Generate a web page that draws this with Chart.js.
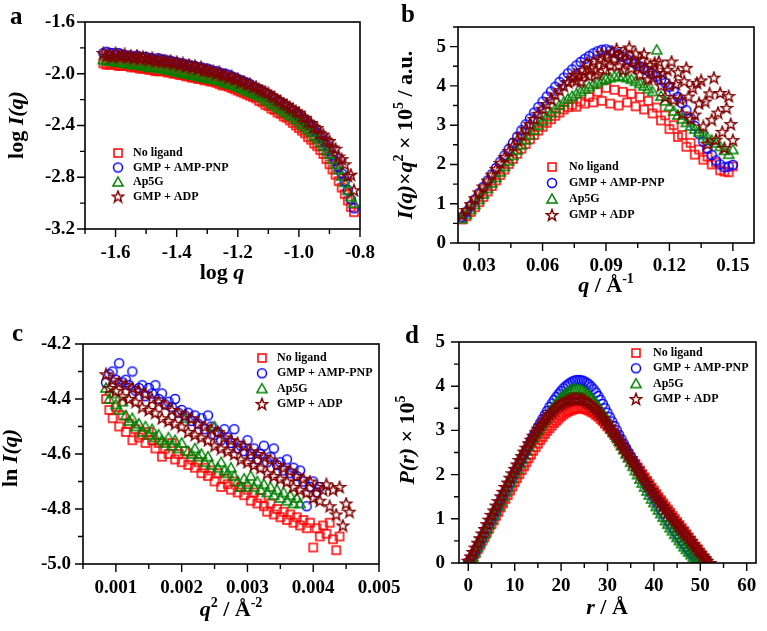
<!DOCTYPE html>
<html>
<head>
<meta charset="utf-8">
<script src="https://cdn.jsdelivr.net/npm/chart.js@4.4.1/dist/chart.umd.min.js"></script>
<style>
  body { margin: 0; background: #fff; width: 767px; height: 631px; position: relative; overflow: hidden; }
  canvas { position: absolute; }
</style>
</head>
<body>
<canvas id="chartA" width="384" height="316" style="left:0;top:0"></canvas>
<canvas id="chartB" width="384" height="316" style="left:383px;top:0"></canvas>
<canvas id="chartC" width="420" height="315" style="left:0;top:316px"></canvas>
<canvas id="chartD" width="384" height="315" style="left:383px;top:316px"></canvas>
<script>
'use strict';

const seriesNames = ['No ligand', 'GMP + AMP-PNP', 'Ap5G', 'GMP + ADP'];

// panel a: log I(q) vs log q
const logQ = [-1.64, -1.63, -1.62, -1.61, -1.60, -1.59, -1.58, -1.57, -1.56, -1.55, -1.54, -1.53, -1.52, -1.51, -1.50, -1.49, -1.48, -1.47, -1.46, -1.45, -1.44, -1.43, -1.42, -1.41, -1.40, -1.39, -1.38, -1.37, -1.36, -1.35, -1.34, -1.33, -1.32, -1.31, -1.30, -1.29, -1.28, -1.27, -1.26, -1.25, -1.24, -1.23, -1.22, -1.21, -1.20, -1.19, -1.18, -1.17, -1.16, -1.15, -1.14, -1.13, -1.12, -1.11, -1.10, -1.09, -1.08, -1.07, -1.06, -1.05, -1.04, -1.03, -1.02, -1.01, -1.00, -0.99, -0.98, -0.97, -0.96, -0.95, -0.94, -0.93, -0.92, -0.91, -0.90, -0.89, -0.88, -0.87, -0.86, -0.85, -0.84, -0.83, -0.82];
const aNoLigand = [-1.92, -1.93, -1.93, -1.92, -1.93, -1.94, -1.94, -1.93, -1.94, -1.95, -1.95, -1.95, -1.96, -1.96, -1.96, -1.97, -1.97, -1.98, -1.98, -1.98, -1.98, -1.99, -1.99, -2.00, -2.00, -2.01, -2.01, -2.02, -2.02, -2.03, -2.03, -2.04, -2.04, -2.05, -2.05, -2.06, -2.06, -2.07, -2.08, -2.09, -2.09, -2.10, -2.11, -2.12, -2.13, -2.14, -2.15, -2.16, -2.17, -2.18, -2.19, -2.21, -2.22, -2.24, -2.25, -2.27, -2.28, -2.30, -2.31, -2.33, -2.34, -2.36, -2.38, -2.40, -2.42, -2.44, -2.46, -2.49, -2.51, -2.54, -2.56, -2.59, -2.62, -2.66, -2.70, -2.74, -2.78, -2.83, -2.88, -2.93, -2.98, -3.03, -3.07];
const aAmpPnp = [-1.84, -1.83, -1.84, -1.84, -1.85, -1.84, -1.85, -1.86, -1.86, -1.86, -1.87, -1.86, -1.87, -1.88, -1.87, -1.88, -1.88, -1.89, -1.88, -1.89, -1.89, -1.90, -1.90, -1.91, -1.91, -1.92, -1.92, -1.93, -1.93, -1.94, -1.94, -1.95, -1.95, -1.96, -1.96, -1.97, -1.98, -1.98, -1.99, -2.00, -2.00, -2.01, -2.02, -2.03, -2.04, -2.05, -2.06, -2.07, -2.08, -2.10, -2.11, -2.12, -2.13, -2.15, -2.16, -2.18, -2.19, -2.21, -2.22, -2.24, -2.25, -2.27, -2.29, -2.31, -2.33, -2.35, -2.37, -2.39, -2.41, -2.44, -2.46, -2.49, -2.52, -2.55, -2.59, -2.63, -2.67, -2.72, -2.77, -2.83, -2.90, -2.97, -3.04];
const aAp5g = [-1.89, -1.90, -1.90, -1.90, -1.91, -1.91, -1.91, -1.92, -1.92, -1.92, -1.93, -1.93, -1.93, -1.94, -1.94, -1.95, -1.95, -1.95, -1.95, -1.96, -1.96, -1.97, -1.97, -1.98, -1.98, -1.99, -1.99, -2.00, -2.00, -2.01, -2.01, -2.02, -2.02, -2.03, -2.03, -2.04, -2.04, -2.05, -2.05, -2.06, -2.07, -2.08, -2.08, -2.09, -2.10, -2.11, -2.12, -2.13, -2.14, -2.15, -2.16, -2.17, -2.18, -2.20, -2.21, -2.23, -2.24, -2.26, -2.27, -2.29, -2.30, -2.32, -2.33, -2.35, -2.37, -2.39, -2.41, -2.43, -2.45, -2.48, -2.50, -2.53, -2.56, -2.59, -2.62, -2.66, -2.70, -2.74, -2.79, -2.84, -2.90, -2.95, -3.00];
const aGmpAdp = [-1.84, -1.86, -1.85, -1.87, -1.84, -1.86, -1.86, -1.85, -1.87, -1.86, -1.88, -1.86, -1.88, -1.87, -1.88, -1.89, -1.88, -1.90, -1.89, -1.90, -1.90, -1.91, -1.90, -1.92, -1.91, -1.93, -1.92, -1.94, -1.93, -1.95, -1.94, -1.96, -1.95, -1.97, -1.97, -1.98, -1.98, -2.00, -1.99, -2.01, -2.01, -2.03, -2.02, -2.04, -2.04, -2.06, -2.06, -2.08, -2.08, -2.10, -2.10, -2.12, -2.13, -2.14, -2.15, -2.17, -2.18, -2.20, -2.21, -2.23, -2.24, -2.26, -2.27, -2.29, -2.30, -2.33, -2.34, -2.37, -2.38, -2.41, -2.42, -2.46, -2.47, -2.51, -2.52, -2.57, -2.58, -2.64, -2.66, -2.70, -2.79, -2.78, -2.90];
const aXTicks = [-1.6, -1.4, -1.2, -1.0, -0.8];
const aXMinor = [-1.7, -1.5, -1.3, -1.1, -0.9];
const aYTicks = [-1.6, -2.0, -2.4, -2.8, -3.2];
const aYMinor = [-1.8, -2.2, -2.6, -3.0];

// panel b: Kratky plot
const qB = [0.022, 0.024, 0.026, 0.028, 0.030, 0.032, 0.034, 0.036, 0.038, 0.040, 0.042, 0.044, 0.046, 0.048, 0.050, 0.052, 0.054, 0.056, 0.058, 0.060, 0.062, 0.064, 0.066, 0.068, 0.070, 0.072, 0.074, 0.076, 0.078, 0.080, 0.082, 0.084, 0.086, 0.088, 0.090, 0.092, 0.094, 0.096, 0.098, 0.100, 0.102, 0.104, 0.106, 0.108, 0.110, 0.112, 0.114, 0.116, 0.118, 0.120, 0.122, 0.124, 0.126, 0.128, 0.130, 0.132, 0.134, 0.136, 0.138, 0.140, 0.142, 0.144, 0.146, 0.148, 0.150];
const bNoLigand = [0.60, 0.68, 0.79, 0.91, 1.04, 1.17, 1.31, 1.45, 1.59, 1.73, 1.87, 2.01, 2.14, 2.27, 2.40, 2.52, 2.64, 2.75, 2.86, 2.96, 3.06, 3.15, 3.24, 3.32, 3.40, 3.46, 3.52, 3.47, 3.60, 3.55, 3.72, 3.58, 3.85, 3.62, 3.95, 3.55, 3.90, 3.50, 3.85, 3.58, 3.80, 3.48, 3.72, 3.40, 3.62, 3.30, 3.45, 3.12, 3.25, 2.90, 3.00, 2.70, 2.75, 2.45, 2.55, 2.25, 2.38, 2.12, 2.20, 2.00, 2.05, 1.85, 1.82, 1.80, 1.95];
const bAmpPnp = [0.66, 0.80, 0.95, 1.11, 1.27, 1.43, 1.59, 1.75, 1.91, 2.07, 2.23, 2.39, 2.55, 2.71, 2.87, 3.02, 3.17, 3.32, 3.46, 3.60, 3.73, 3.86, 3.98, 4.10, 4.21, 4.32, 4.42, 4.52, 4.61, 4.69, 4.76, 4.83, 4.88, 4.92, 4.93, 4.90, 4.85, 4.80, 4.74, 4.68, 4.62, 4.56, 4.50, 4.44, 4.38, 4.31, 4.24, 4.16, 4.08, 3.98, 3.86, 3.72, 3.56, 3.38, 3.18, 2.98, 2.78, 2.58, 2.40, 2.24, 2.10, 2.00, 1.93, 1.95, 1.99];
const bAp5g = [0.62, 0.73, 0.85, 0.98, 1.11, 1.25, 1.39, 1.53, 1.67, 1.81, 1.95, 2.09, 2.23, 2.37, 2.50, 2.63, 2.76, 2.88, 3.00, 3.11, 3.22, 3.32, 3.42, 3.51, 3.59, 3.67, 3.74, 3.80, 3.86, 3.92, 3.98, 4.04, 4.09, 4.14, 4.18, 4.21, 4.24, 4.25, 4.24, 4.21, 4.17, 4.12, 4.06, 4.00, 3.93, 3.86, 4.92, 3.74, 3.62, 3.48, 3.36, 3.26, 3.16, 3.07, 2.98, 2.90, 2.83, 2.76, 2.69, 2.62, 2.55, 2.46, 2.36, 2.26, 2.38];
// GMP + ADP is sampled more finely past the peak, where it is noisy
const qBAdp = [0.022, 0.024, 0.026, 0.028, 0.030, 0.032, 0.034, 0.036, 0.038, 0.040, 0.042, 0.044, 0.046, 0.048, 0.050, 0.052, 0.054, 0.056, 0.058, 0.060, 0.062, 0.064, 0.066, 0.068, 0.070, 0.072, 0.074, 0.075, 0.076, 0.077, 0.078, 0.079, 0.080, 0.081, 0.082, 0.083, 0.084, 0.085, 0.086, 0.087, 0.088, 0.089, 0.090, 0.091, 0.092, 0.093, 0.094, 0.095, 0.096, 0.097, 0.098, 0.099, 0.100, 0.101, 0.102, 0.103, 0.104, 0.105, 0.106, 0.107, 0.108, 0.109, 0.110, 0.111, 0.112, 0.113, 0.114, 0.115, 0.116, 0.117, 0.118, 0.119, 0.120, 0.121, 0.122, 0.123, 0.124, 0.125, 0.126, 0.127, 0.128, 0.129, 0.130, 0.131, 0.132, 0.133, 0.134, 0.135, 0.136, 0.137, 0.138, 0.139, 0.140, 0.141, 0.142, 0.143, 0.144, 0.145, 0.146, 0.147, 0.148, 0.149, 0.150];
const bGmpAdp = [0.72, 0.84, 0.99, 1.14, 1.29, 1.44, 1.59, 1.74, 1.89, 2.04, 2.19, 2.34, 2.48, 2.62, 2.76, 2.90, 3.03, 3.16, 3.29, 3.42, 3.54, 3.66, 3.78, 3.89, 4.00, 4.10, 4.20, 4.28, 4.13, 4.28, 4.11, 4.41, 4.31, 4.59, 4.26, 4.46, 4.64, 4.40, 4.30, 4.67, 4.84, 4.59, 4.41, 4.75, 4.52, 4.86, 4.69, 4.94, 4.52, 4.76, 4.40, 4.85, 4.64, 4.98, 4.45, 4.67, 4.83, 4.48, 4.29, 4.67, 4.81, 4.45, 4.17, 4.53, 4.21, 4.59, 4.33, 4.62, 4.01, 4.32, 3.72, 4.41, 4.02, 4.62, 3.65, 4.05, 4.35, 3.66, 3.30, 4.12, 4.46, 3.73, 3.16, 3.95, 3.27, 4.08, 3.56, 4.14, 2.97, 3.60, 2.52, 3.81, 3.14, 4.21, 2.63, 3.32, 3.82, 2.83, 2.42, 3.44, 3.74, 3.03, 2.62];
const bXTicks = [0.03, 0.06, 0.09, 0.12, 0.15];
const bXMinor = [0.045, 0.075, 0.105, 0.135];
const bYTicks = [0, 1, 2, 3, 4, 5];
const bYMinor = [0.5, 1.5, 2.5, 3.5, 4.5, 5.5];

// panel c: Guinier plot
const q2C = [0.00085, 0.0009, 0.00095, 0.001, 0.00105, 0.0011, 0.00115, 0.0012, 0.00125, 0.0013, 0.00135, 0.0014, 0.00145, 0.0015, 0.00155, 0.0016, 0.00165, 0.0017, 0.00175, 0.0018, 0.00185, 0.0019, 0.00195, 0.002, 0.00205, 0.0021, 0.00215, 0.0022, 0.00225, 0.0023, 0.00235, 0.0024, 0.00245, 0.0025, 0.00255, 0.0026, 0.00265, 0.0027, 0.00275, 0.0028, 0.00285, 0.0029, 0.00295, 0.003, 0.00305, 0.0031, 0.00315, 0.0032, 0.00325, 0.0033, 0.00335, 0.0034, 0.00345, 0.0035, 0.00355, 0.0036, 0.00365, 0.0037, 0.00375, 0.0038, 0.00385, 0.0039, 0.00395, 0.004, 0.00405, 0.0041, 0.00415, 0.0042, 0.00425, 0.0043, 0.00435, 0.0044, 0.00445, 0.0045, 0.00455];
const cNoLigand = [-4.40, -4.44, -4.47, -4.43, -4.50, -4.46, -4.52, -4.49, -4.55, -4.51, -4.54, -4.53, -4.56, -4.52, -4.55, -4.58, -4.56, -4.61, -4.58, -4.60, -4.56, -4.62, -4.60, -4.63, -4.59, -4.64, -4.62, -4.65, -4.63, -4.67, -4.65, -4.68, -4.66, -4.70, -4.67, -4.72, -4.69, -4.71, -4.73, -4.70, -4.74, -4.72, -4.75, -4.73, -4.77, -4.74, -4.78, -4.76, -4.79, -4.81, -4.78, -4.82, -4.80, -4.83, -4.81, -4.84, -4.82, -4.85, -4.83, -4.86, -4.84, -4.87, -4.85, -4.94, -4.87, -4.90, -4.86, -4.89, -4.85, -4.91, -4.95, -4.90, null, null, null];
const cAmpPnp = [-4.34, -4.31, -4.30, -4.33, -4.27, -4.34, -4.33, -4.35, -4.30, -4.37, -4.36, -4.35, -4.39, -4.36, -4.38, -4.35, -4.40, -4.38, -4.42, -4.41, -4.43, -4.40, -4.45, -4.44, -4.46, -4.45, -4.48, -4.46, -4.49, -4.47, -4.51, -4.46, -4.50, -4.53, -4.52, -4.55, -4.51, -4.54, -4.56, -4.51, -4.58, -4.57, -4.59, -4.55, -4.60, -4.58, -4.62, -4.60, -4.57, -4.63, -4.61, -4.58, -4.64, -4.63, -4.66, -4.62, -4.67, -4.65, -4.68, -4.66, -4.70, -4.79, -4.72, -4.70, -4.74, -4.72, null, null, null, null, null, null, null, null, null];
const cAp5g = [-4.36, -4.40, -4.38, -4.42, -4.44, -4.41, -4.46, -4.48, -4.47, -4.50, -4.49, -4.52, -4.50, -4.53, -4.51, -4.54, -4.53, -4.55, -4.56, -4.54, -4.57, -4.55, -4.58, -4.56, -4.47, -4.59, -4.60, -4.58, -4.61, -4.60, -4.63, -4.61, -4.64, -4.50, -4.65, -4.63, -4.66, -4.67, -4.65, -4.68, -4.70, -4.72, -4.69, -4.71, -4.68, -4.72, -4.70, -4.73, -4.71, -4.74, -4.72, -4.75, -4.73, -4.76, -4.74, -4.77, -4.75, -4.78, -4.76, -4.78, null, null, null, null, null, null, null, null, null, null, null, null, null, null, null];
const cGmpAdp = [-4.31, -4.36, -4.33, -4.37, -4.34, -4.39, -4.35, -4.40, -4.36, -4.41, -4.37, -4.43, -4.38, -4.44, -4.40, -4.45, -4.41, -4.47, -4.42, -4.48, -4.44, -4.49, -4.45, -4.50, -4.46, -4.52, -4.47, -4.53, -4.49, -4.54, -4.50, -4.55, -4.51, -4.57, -4.52, -4.58, -4.54, -4.59, -4.55, -4.60, -4.56, -4.62, -4.57, -4.63, -4.59, -4.64, -4.60, -4.65, -4.61, -4.67, -4.62, -4.68, -4.64, -4.69, -4.65, -4.70, -4.66, -4.72, -4.68, -4.73, -4.69, -4.74, -4.70, -4.76, -4.72, -4.77, -4.73, -4.71, -4.79, -4.73, -4.82, -4.72, -4.86, -4.78, -4.81];
const cXTicks = [0.001, 0.002, 0.003, 0.004, 0.005];
const cXMinor = [0.0005, 0.0015, 0.0025, 0.0035, 0.0045];
const cYTicks = [-4.2, -4.4, -4.6, -4.8, -5.0];
const cYMinor = [-4.3, -4.5, -4.7, -4.9];

// panel d: pair distance distribution
const rD = [0, 0.5, 1, 1.5, 2, 2.5, 3, 3.5, 4, 4.5, 5, 5.5, 6, 6.5, 7, 7.5, 8, 8.5, 9, 9.5, 10, 10.5, 11, 11.5, 12, 12.5, 13, 13.5, 14, 14.5, 15, 15.5, 16, 16.5, 17, 17.5, 18, 18.5, 19, 19.5, 20, 20.5, 21, 21.5, 22, 22.5, 23, 23.5, 24, 24.5, 25, 25.5, 26, 26.5, 27, 27.5, 28, 28.5, 29, 29.5, 30, 30.5, 31, 31.5, 32, 32.5, 33, 33.5, 34, 34.5, 35, 35.5, 36, 36.5, 37, 37.5, 38, 38.5, 39, 39.5, 40, 40.5, 41, 41.5, 42, 42.5, 43, 43.5, 44, 44.5, 45, 45.5, 46, 46.5, 47, 47.5, 48, 48.5, 49, 49.5, 50, 50.5, 51, 51.5, 52];
const dNoLigand = [0.00, 0.05, 0.12, 0.21, 0.31, 0.40, 0.50, 0.59, 0.69, 0.78, 0.88, 0.97, 1.07, 1.16, 1.26, 1.35, 1.45, 1.54, 1.64, 1.73, 1.83, 1.92, 2.01, 2.10, 2.19, 2.28, 2.37, 2.45, 2.54, 2.62, 2.70, 2.78, 2.85, 2.92, 2.99, 3.05, 3.11, 3.17, 3.22, 3.27, 3.32, 3.36, 3.40, 3.43, 3.45, 3.47, 3.49, 3.50, 3.50, 3.50, 3.49, 3.47, 3.45, 3.42, 3.39, 3.35, 3.31, 3.26, 3.21, 3.15, 3.09, 3.03, 2.96, 2.90, 2.83, 2.76, 2.68, 2.61, 2.54, 2.46, 2.39, 2.31, 2.24, 2.16, 2.09, 2.01, 1.94, 1.86, 1.79, 1.71, 1.64, 1.56, 1.49, 1.42, 1.35, 1.28, 1.21, 1.14, 1.07, 1.00, 0.93, 0.86, 0.79, 0.72, 0.65, 0.58, 0.51, 0.44, 0.37, 0.30, 0.23, 0.16, 0.09, 0.02, null];
const dAmpPnp = [0.00, 0.07, 0.15, 0.25, 0.36, 0.46, 0.57, 0.67, 0.78, 0.88, 0.99, 1.09, 1.20, 1.30, 1.41, 1.51, 1.62, 1.72, 1.83, 1.93, 2.04, 2.14, 2.25, 2.35, 2.46, 2.56, 2.67, 2.77, 2.87, 2.97, 3.07, 3.17, 3.26, 3.35, 3.44, 3.53, 3.61, 3.69, 3.76, 3.83, 3.89, 3.95, 4.00, 4.04, 4.08, 4.11, 4.13, 4.14, 4.14, 4.13, 4.11, 4.08, 4.04, 3.99, 3.93, 3.86, 3.78, 3.69, 3.60, 3.50, 3.40, 3.30, 3.20, 3.10, 3.00, 2.90, 2.80, 2.70, 2.60, 2.50, 2.40, 2.30, 2.21, 2.11, 2.02, 1.92, 1.83, 1.74, 1.65, 1.56, 1.47, 1.38, 1.29, 1.20, 1.12, 1.04, 0.96, 0.88, 0.80, 0.72, 0.65, 0.57, 0.50, 0.43, 0.36, 0.29, 0.23, 0.17, 0.11, 0.06, 0.02, null, null, null, null];
const dAp5g = [0.00, 0.07, 0.14, 0.24, 0.35, 0.45, 0.56, 0.66, 0.77, 0.87, 0.98, 1.08, 1.19, 1.29, 1.40, 1.50, 1.61, 1.71, 1.82, 1.92, 2.03, 2.13, 2.24, 2.34, 2.44, 2.54, 2.64, 2.74, 2.83, 2.92, 3.01, 3.10, 3.18, 3.26, 3.34, 3.42, 3.49, 3.56, 3.62, 3.68, 3.74, 3.79, 3.84, 3.88, 3.91, 3.93, 3.94, 3.94, 3.93, 3.91, 3.88, 3.84, 3.80, 3.74, 3.68, 3.61, 3.54, 3.46, 3.38, 3.30, 3.21, 3.12, 3.03, 2.94, 2.85, 2.76, 2.66, 2.57, 2.47, 2.38, 2.28, 2.19, 2.09, 2.00, 1.90, 1.81, 1.72, 1.63, 1.54, 1.45, 1.37, 1.28, 1.20, 1.12, 1.04, 0.96, 0.88, 0.80, 0.73, 0.65, 0.58, 0.51, 0.44, 0.37, 0.31, 0.25, 0.19, 0.13, 0.08, 0.03, 0.00, null, null, null, null];
const dGmpAdp = [0.05, 0.15, 0.25, 0.35, 0.46, 0.56, 0.67, 0.77, 0.88, 0.98, 1.09, 1.19, 1.30, 1.40, 1.51, 1.61, 1.72, 1.82, 1.93, 2.03, 2.13, 2.23, 2.33, 2.42, 2.52, 2.61, 2.71, 2.79, 2.88, 2.96, 3.04, 3.11, 3.18, 3.25, 3.31, 3.37, 3.42, 3.47, 3.52, 3.56, 3.60, 3.63, 3.66, 3.68, 3.70, 3.71, 3.72, 3.72, 3.71, 3.70, 3.68, 3.65, 3.62, 3.58, 3.53, 3.48, 3.42, 3.36, 3.29, 3.22, 3.15, 3.08, 3.00, 2.93, 2.85, 2.77, 2.69, 2.61, 2.53, 2.45, 2.37, 2.29, 2.21, 2.13, 2.05, 1.97, 1.89, 1.81, 1.74, 1.66, 1.59, 1.51, 1.44, 1.37, 1.30, 1.23, 1.16, 1.09, 1.02, 0.95, 0.89, 0.82, 0.76, 0.69, 0.63, 0.56, 0.50, 0.43, 0.37, 0.30, 0.24, 0.17, 0.11, 0.05, 0.00];
const dXTicks = [0, 10, 20, 30, 40, 50, 60];
const dXMinor = [5, 15, 25, 35, 45, 55];
const dYTicks = [0, 1, 2, 3, 4, 5];
const dYMinor = [0.5, 1.5, 2.5, 3.5, 4.5];

const FONT = '"Liberation Serif", "Times New Roman", serif';
const colors = ['#ff0000', '#0000ff', '#008000', '#800000'];

// hollow marker images used both for points and legend
function makeMarker(kind, color) {
    const c = document.createElement('canvas');
    c.width = 14;
    c.height = 14;
    const g = c.getContext('2d');
    g.strokeStyle = color;
    g.lineWidth = 1.5;
    g.lineJoin = 'miter';
    g.beginPath();
    if (kind === 'square') {
        g.rect(3, 3, 8, 8);
    } else if (kind === 'circle') {
        g.arc(7, 7, 4.5, 0, Math.PI * 2);
    } else if (kind === 'triangle') {
        g.moveTo(7, 2);
        g.lineTo(12.1, 11.1);
        g.lineTo(1.9, 11.1);
        g.closePath();
    } else {
        for (let i = 0; i < 10; i++) {
            const r = i % 2 ? 2.5 : 6.0;
            const a = -Math.PI / 2 + i * Math.PI / 5;
            const px = 7 + r * Math.cos(a);
            const py = 7.5 + r * Math.sin(a);
            if (i) g.lineTo(px, py); else g.moveTo(px, py);
        }
        g.closePath();
    }
    g.stroke();
    return c;
}

const markers = [
    makeMarker('square', colors[0]),
    makeMarker('circle', colors[1]),
    makeMarker('triangle', colors[2]),
    makeMarker('star', colors[3])
];

// each series is a pair [xValues, yValues]
function makeDatasets(seriesList) {
    return seriesList.map((s, i) => ({
        label: seriesNames[i],
        data: s[0].map((x, j) => ({ x: x, y: s[1][j] })).filter(p => p.y !== null),
        pointStyle: markers[i],
        pointRadius: 5,
        showLine: false,
        order: 4 - i
    }));
}

// rich text: parts are [text, flags] with 'i' italic and 's' superscript
function drawRich(ctx, parts, x, y, size, rotated) {
    function fontFor(flags) {
        const sup = flags.includes('s');
        return (flags.includes('i') ? 'italic ' : '') + 'bold ' + (sup ? Math.round(size * 0.62) : size) + 'px ' + FONT;
    }
    let total = 0;
    parts.forEach(p => {
        ctx.font = fontFor(p[1]);
        total += ctx.measureText(p[0]).width;
    });
    ctx.save();
    ctx.translate(x, y);
    if (rotated) ctx.rotate(-Math.PI / 2);
    ctx.fillStyle = '#000';
    ctx.textBaseline = 'alphabetic';
    ctx.textAlign = 'left';
    let cx = -total / 2;
    parts.forEach(p => {
        ctx.font = fontFor(p[1]);
        const dy = p[1].includes('s') ? -size * 0.4 : 0;
        ctx.fillText(p[0], cx, dy);
        cx += ctx.measureText(p[0]).width;
    });
    ctx.restore();
}

function makePanelPlugin(cfg) {
    return {
        id: 'panel' + cfg.letter,
        afterDraw(chart) {
            const ctx = chart.ctx;
            const area = chart.chartArea;
            const xs = chart.scales.x;
            const ys = chart.scales.y;
            ctx.save();
            ctx.strokeStyle = '#000';
            ctx.lineWidth = 1.6;
            ctx.strokeRect(area.left, area.top, area.right - area.left, area.bottom - area.top);
            ctx.lineWidth = 1.4;
            ctx.beginPath();
            cfg.xTicks.forEach(v => { const p = xs.getPixelForValue(v); ctx.moveTo(p, area.bottom); ctx.lineTo(p, area.bottom + 8); });
            cfg.xMinor.forEach(v => { const p = xs.getPixelForValue(v); ctx.moveTo(p, area.bottom); ctx.lineTo(p, area.bottom + 5); });
            cfg.yTicks.forEach(v => { const p = ys.getPixelForValue(v); ctx.moveTo(area.left, p); ctx.lineTo(area.left - 8, p); });
            cfg.yMinor.forEach(v => { const p = ys.getPixelForValue(v); ctx.moveTo(area.left, p); ctx.lineTo(area.left - 5, p); });
            ctx.stroke();

            // panel letter
            ctx.fillStyle = '#000';
            ctx.font = 'bold 25px ' + FONT;
            ctx.textBaseline = 'alphabetic';
            ctx.fillText(cfg.letter, cfg.letterPos[0], cfg.letterPos[1]);

            drawRich(ctx, cfg.xTitle, cfg.xTitlePos[0], cfg.xTitlePos[1], 22, false);
            drawRich(ctx, cfg.yTitle, cfg.yTitlePos[0], cfg.yTitlePos[1], 22, true);

            // legend inside the plot
            ctx.font = 'bold 12px ' + FONT;
            ctx.textBaseline = 'middle';
            seriesNames.forEach((name, i) => {
                const y = cfg.legend.y + i * cfg.legend.dy;
                const m = markers[i];
                ctx.drawImage(m, cfg.legend.mx - m.width / 2, y - m.height / 2);
                ctx.fillText(name, cfg.legend.tx, y);
            });
            ctx.restore();
        }
    };
}

function buildChart(canvasId, cfg) {
    const canvas = document.getElementById(canvasId);
    const W = canvas.width;
    const H = canvas.height;
    const tickFont = { family: FONT, size: 19, weight: 'bold' };
    return new Chart(canvas, {
        type: 'scatter',
        data: { datasets: makeDatasets(cfg.series) },
        options: {
            responsive: false,
            animation: false,
            devicePixelRatio: 1,
            layout: { padding: { left: 0, top: cfg.box.top, right: W - cfg.box.right, bottom: 0 } },
            plugins: { legend: { display: false }, tooltip: { enabled: false } },
            scales: {
                x: {
                    type: 'linear',
                    min: cfg.xMin,
                    max: cfg.xMax,
                    afterBuildTicks: s => { s.ticks = cfg.xTicks.map(v => ({ value: v })); },
                    afterFit: s => { s.height = H - cfg.box.bottom; s.paddingLeft = 0; s.paddingRight = 0; },
                    grid: { display: false, drawTicks: false },
                    border: { display: false },
                    ticks: {
                        color: '#000', font: tickFont, padding: cfg.xPad, maxRotation: 0, autoSkip: false,
                        callback: v => Number(v).toFixed(cfg.xDec)
                    }
                },
                y: {
                    type: 'linear',
                    min: cfg.yMin,
                    max: cfg.yMax,
                    afterBuildTicks: s => { s.ticks = cfg.yTicks.map(v => ({ value: v })); },
                    afterFit: s => { s.width = cfg.box.left; s.paddingTop = 0; s.paddingBottom = 0; },
                    grid: { display: false, drawTicks: false },
                    border: { display: false },
                    ticks: {
                        color: '#000', font: tickFont, padding: cfg.yPad, autoSkip: false,
                        callback: v => Number(v).toFixed(cfg.yDec)
                    }
                }
            }
        },
        plugins: [makePanelPlugin(cfg)]
    });
}

buildChart('chartA', {
    letter: 'a', letterPos: [10, 24],
    series: [[logQ, aNoLigand], [logQ, aAmpPnp], [logQ, aAp5g], [logQ, aGmpAdp]],
    box: { left: 85, right: 360, top: 22, bottom: 229 },
    xMin: -1.7, xMax: -0.8, yMin: -3.2, yMax: -1.6,
    xTicks: aXTicks, xMinor: aXMinor, yTicks: aYTicks, yMinor: aYMinor,
    xDec: 1, yDec: 1, xPad: 13, yPad: 10,
    xTitle: [['log ', ''], ['q', 'i']], xTitlePos: [222, 279],
    yTitle: [['log ', ''], ['I(q)', 'i']], yTitlePos: [23, 125],
    legend: { mx: 118, tx: 133, y: 153, dy: 14.5 }
});

buildChart('chartB', {
    letter: 'b', letterPos: [18, 22],
    series: [[qB, bNoLigand], [qB, bAmpPnp], [qB, bAp5g], [qBAdp, bGmpAdp]],
    box: { left: 75, right: 371, top: 27, bottom: 243 },
    xMin: 0.02, xMax: 0.16, yMin: 0, yMax: 5.5,
    xTicks: bXTicks, xMinor: bXMinor, yTicks: bYTicks, yMinor: bYMinor,
    xDec: 2, yDec: 0, xPad: 12, yPad: 12,
    xTitle: [['q', 'i'], [' / Å', ''], ['-1', 's']], xTitlePos: [223, 292],
    yTitle: [['I(q)', 'i'], ['×', ''], ['q', 'i'], ['2', 's'], [' × 10', ''], ['5', 's'], [' / a.u.', '']], yTitlePos: [29, 135],
    legend: { mx: 169, tx: 186, y: 167, dy: 16 }
});

buildChart('chartC', {
    letter: 'c', letterPos: [12, 25],
    series: [[q2C, cNoLigand], [q2C, cAmpPnp], [q2C, cAp5g], [q2C, cGmpAdp]],
    box: { left: 83, right: 379, top: 28, bottom: 248 },
    xMin: 0.0005, xMax: 0.005, yMin: -5.0, yMax: -4.2,
    xTicks: cXTicks, xMinor: cXMinor, yTicks: cYTicks, yMinor: cYMinor,
    xDec: 3, yDec: 1, xPad: 13, yPad: 12,
    xTitle: [['q', 'i'], ['2', 's'], [' / Å', ''], ['-2', 's']], xTitlePos: [231, 300],
    yTitle: [['ln ', ''], ['I(q)', 'i']], yTitlePos: [17, 142],
    legend: { mx: 262, tx: 277, y: 42, dy: 15.3 }
});

buildChart('chartD', {
    letter: 'd', letterPos: [22, 27],
    series: [[rD, dNoLigand], [rD, dAmpPnp], [rD, dAp5g], [rD, dGmpAdp]],
    box: { left: 76, right: 373, top: 26, bottom: 247 },
    xMin: -2, xMax: 62, yMin: 0, yMax: 5,
    xTicks: dXTicks, xMinor: dXMinor, yTicks: dYTicks, yMinor: dYMinor,
    xDec: 0, yDec: 0, xPad: 12, yPad: 14,
    xTitle: [['r', 'i'], [' / Å', '']], xTitlePos: [224, 298],
    yTitle: [['P(r)', 'i'], [' × 10', ''], ['5', 's']], yTitlePos: [31, 124],
    legend: { mx: 253, tx: 270, y: 37, dy: 15.3 }
});
</script>
</body>
</html>
